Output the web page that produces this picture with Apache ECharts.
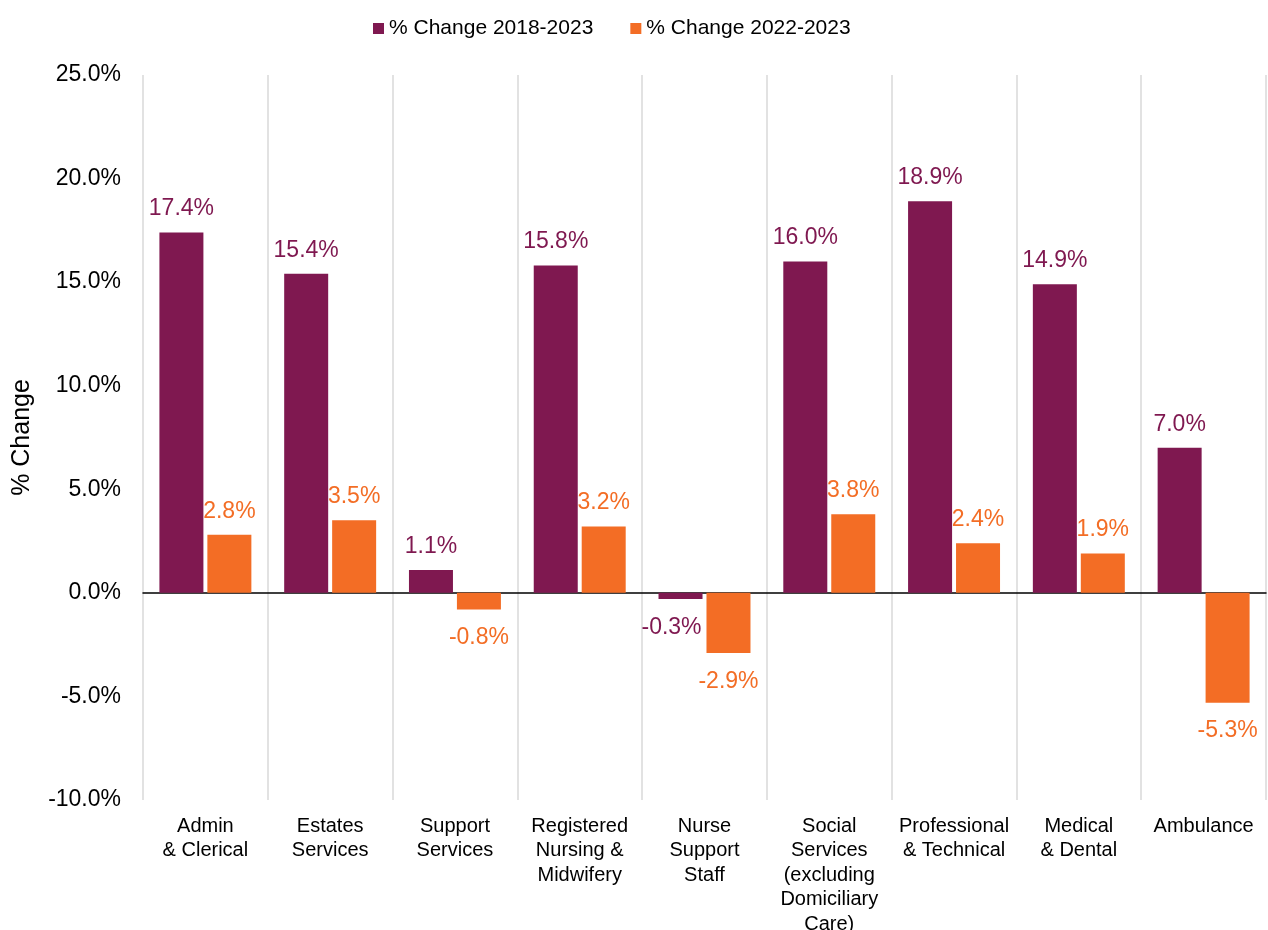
<!DOCTYPE html>
<html lang="en">
    <head>
        <meta charset="utf-8">
        <script src="https://cdn.jsdelivr.net/npm/echarts@6.0.0/dist/echarts.min.js"></script>
        <title>% Change by staff group</title>
        <style>
            html, body { margin: 0; padding: 0; background: #fff; }
            #chart { width: 1268px; height: 930px; }
        </style>
    </head>
    <body>
        <div id="chart"></div>
        <script>
            // data
            var categories = [
                'Admin\n& Clerical',
                'Estates\nServices',
                'Support\nServices',
                'Registered\nNursing &\nMidwifery',
                'Nurse\nSupport\nStaff',
                'Social\nServices\n(excluding\nDomiciliary\nCare)',
                'Professional\n& Technical',
                'Medical\n& Dental',
                'Ambulance'
            ];
            var seriesNames = ['% Change 2018-2023', '% Change 2022-2023'];
            var change2018 = [17.4, 15.4, 1.1, 15.8, -0.3, 16.0, 18.9, 14.9, 7.0];
            var change2022 = [2.8, 3.5, -0.8, 3.2, -2.9, 3.8, 2.4, 1.9, -5.3];
            var colors = ['#7f1850', '#f36d25'];

            function pct(v) {
                return Number(v).toFixed(1) + '%';
            }

            // negative labels sit a bit lower; the left series' ones also nudge left
            // so they don't run into the neighbouring bar
            function makeSeries(name, data, color, dxNeg) {
                return {
                    name: name,
                    type: 'bar',
                    data: data,
                    barWidth: 44,
                    barGap: '9%',
                    itemStyle: { color: color },
                    label: {
                        show: true,
                        position: 'outside',
                        distance: 12,
                        color: color,
                        fontSize: 23,
                        fontFamily: 'Liberation Sans',
                        formatter: function (p) { return pct(p.value); }
                    },
                    labelLayout: function (p) {
                        if (data[p.dataIndex] < 0) {
                            return { dx: dxNeg, dy: 5 };
                        }
                        return {};
                    }
                };
            }

            var chart = echarts.init(document.getElementById('chart'));
            chart.setOption({
                animation: false,
                textStyle: { fontFamily: 'Liberation Sans' },
                legend: {
                    top: 13,
                    left: 368,
                    icon: 'rect',
                    itemWidth: 11,
                    itemHeight: 11,
                    itemGap: 37,
                    textStyle: { fontSize: 21, color: '#000', fontFamily: 'Liberation Sans' },
                    data: seriesNames
                },
                grid: { left: 143, right: 2, top: 75, bottom: 130, containLabel: false, outerBoundsMode: 'none' },
                xAxis: {
                    type: 'category',
                    data: categories,
                    axisLine: { onZero: true, lineStyle: { color: '#000', width: 1.5 } },
                    axisTick: { show: false },
                    splitLine: { show: true, lineStyle: { color: '#d9d9d9', width: 1.5 } },
                    axisLabel: {
                        interval: 0,
                        color: '#000',
                        fontSize: 20,
                        lineHeight: 24.5,
                        margin: 14,
                        fontFamily: 'Liberation Sans'
                    }
                },
                yAxis: {
                    type: 'value',
                    min: -10,
                    max: 25,
                    interval: 5,
                    name: '% Change',
                    nameLocation: 'middle',
                    nameRotate: 90,
                    nameGap: 108,
                    nameTextStyle: { fontSize: 25, color: '#000', fontFamily: 'Liberation Sans' },
                    axisLine: { show: false },
                    axisTick: { show: false },
                    splitLine: { show: false },
                    axisLabel: {
                        color: '#000',
                        fontSize: 23,
                        margin: 22,
                        fontFamily: 'Liberation Sans',
                        formatter: pct
                    }
                },
                series: [
                    makeSeries(seriesNames[0], change2018, colors[0], -9),
                    makeSeries(seriesNames[1], change2022, colors[1], 0)
                ]
            });
        </script>
    </body>
</html>
